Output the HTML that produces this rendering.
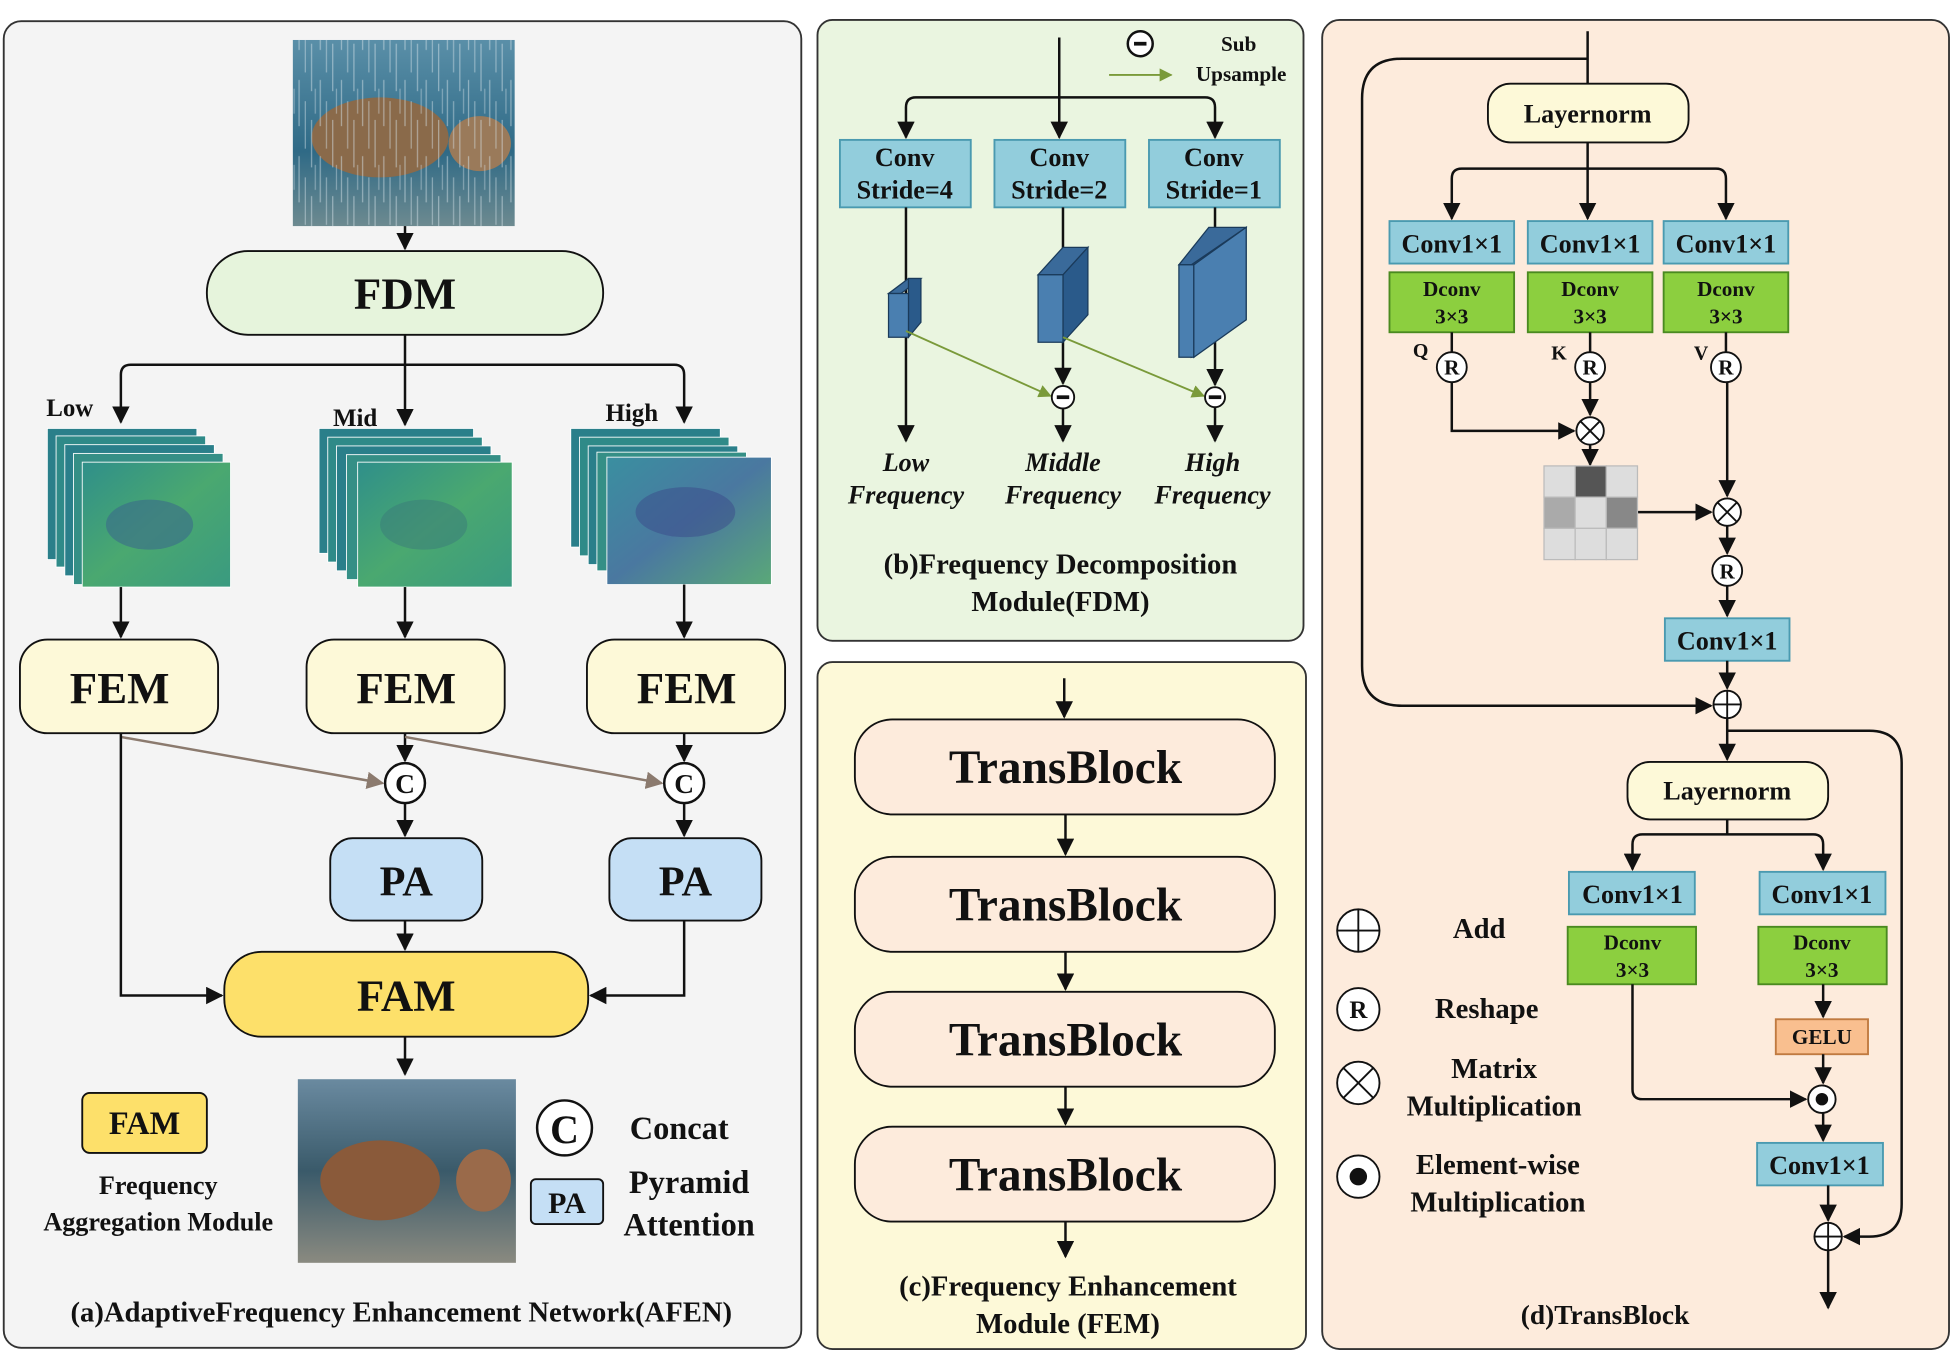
<!DOCTYPE html>
<html><head><meta charset="utf-8"><style>
html,body{margin:0;padding:0;background:#fff}
svg{display:block}
text{font-family:"Liberation Serif",serif;font-weight:bold;fill:#111;text-anchor:middle}
</style></head><body>
<svg width="1954" height="1354" viewBox="0 0 1568 1084" preserveAspectRatio="none" xmlns="http://www.w3.org/2000/svg">
<defs>
<marker id="a" viewBox="0 0 10 10" refX="9" refY="5" markerWidth="7" markerHeight="7" orient="auto-start-reverse"><path d="M0,0L10,5L0,10z" fill="#111"/></marker>
<marker id="g" viewBox="0 0 10 10" refX="9" refY="5" markerWidth="7" markerHeight="7" orient="auto"><path d="M0,0L10,5L0,10z" fill="#7a9a3a"/></marker>
<marker id="b" viewBox="0 0 10 10" refX="9" refY="5" markerWidth="7" markerHeight="7" orient="auto"><path d="M0,0L10,5L0,10z" fill="#8b7a6e"/></marker>
<linearGradient id="rain" x1="0" y1="0" x2="0" y2="1"><stop offset="0" stop-color="#5a8fa8"/><stop offset=".6" stop-color="#2f6a86"/><stop offset="1" stop-color="#6d8a90"/></linearGradient>
<linearGradient id="fm" x1="0" y1="0" x2="1" y2="1"><stop offset="0" stop-color="#2f8f8a"/><stop offset=".5" stop-color="#4aa870"/><stop offset="1" stop-color="#3a9a80"/></linearGradient>
<linearGradient id="fm2" x1="0" y1="0" x2="1" y2="1"><stop offset="0" stop-color="#3a8fa0"/><stop offset=".5" stop-color="#4a78a0"/><stop offset="1" stop-color="#5aa878"/></linearGradient>
<linearGradient id="clean" x1="0" y1="0" x2="0" y2="1"><stop offset="0" stop-color="#6a8aa0"/><stop offset=".5" stop-color="#3a5a6a"/><stop offset="1" stop-color="#8a8a80"/></linearGradient>
<pattern id="rn" width="17" height="61" patternUnits="userSpaceOnUse">
<line x1="2" y1="3" x2="2" y2="40" stroke="#d8e4ea" stroke-width="1" opacity=".5"/>
<line x1="7" y1="20" x2="7" y2="58" stroke="#d8e4ea" stroke-width="1" opacity=".45"/>
<line x1="12" y1="35" x2="12" y2="61" stroke="#d8e4ea" stroke-width="1" opacity=".5"/>
<line x1="12" y1="0" x2="12" y2="12" stroke="#d8e4ea" stroke-width="1" opacity=".5"/>
<line x1="15" y1="10" x2="15" y2="30" stroke="#d8e4ea" stroke-width="1" opacity=".4"/>
</pattern>
</defs>

<rect x="3" y="17" width="640" height="1062" rx="14" fill="#f4f4f4" stroke="#333" stroke-width="1.5"/>
<rect x="656" y="16" width="390" height="497" rx="12" fill="#eaf5e0" stroke="#333" stroke-width="1.5"/>
<rect x="656" y="530" width="392" height="550" rx="12" fill="#fdf9d8" stroke="#333" stroke-width="1.5"/>
<rect x="1061" y="16" width="503" height="1064" rx="14" fill="#fdebdc" stroke="#333" stroke-width="1.5"/>

<g stroke="#111" stroke-width="2" fill="none">
<rect x="235" y="32" width="178" height="149" fill="url(#rain)" stroke="none"/>
<ellipse cx="305" cy="110" rx="55" ry="32" fill="#8a6a4a" stroke="none"/>
<ellipse cx="385" cy="115" rx="25" ry="22" fill="#9a7a5a" stroke="none"/>
<rect x="235" y="32" width="178" height="149" fill="url(#rn)" stroke="none"/>
<line x1="325" y1="181" x2="325" y2="199" marker-end="url(#a)"/>
<rect x="166" y="201" width="318" height="67" rx="33" fill="#e6f4dc" stroke-width="1.5"/>
<line x1="325" y1="268" x2="325" y2="340" marker-end="url(#a)"/>
<path d="M97,338V300q0,-8 8,-8H541q8,0 8,8V338" marker-start="url(#a)" marker-end="url(#a)"/>
</g>
<text x="56" y="333" font-size="20">Low</text>
<text x="285" y="341" font-size="20">Mid</text>
<text x="507" y="337" font-size="20">High</text>
<text x="325" y="247" font-size="36">FDM</text>

<g stroke="#fff" stroke-width="0.7">
<rect x="38" y="343" width="120" height="105" fill="#2a7f8a"/><rect x="45" y="349" width="120" height="105" fill="#2f8a88"/><rect x="52" y="356" width="120" height="105" fill="#2a7f8a"/><rect x="59" y="363" width="120" height="105" fill="#358f86"/>
<rect x="66" y="370" width="119" height="100" fill="url(#fm)"/>
<rect x="256" y="343" width="124" height="100" fill="#2a7f8a"/><rect x="263" y="350" width="124" height="100" fill="#2f8a88"/><rect x="270" y="357" width="124" height="100" fill="#2a7f8a"/><rect x="278" y="364" width="124" height="100" fill="#358f86"/>
<rect x="287" y="370" width="124" height="100" fill="url(#fm)"/>
<rect x="458" y="343" width="120" height="95" fill="#2a7f8a"/><rect x="465" y="350" width="120" height="95" fill="#2f8a88"/><rect x="472" y="357" width="120" height="95" fill="#2a7f8a"/><rect x="479" y="362" width="120" height="95" fill="#358f86"/>
<rect x="487" y="366" width="132" height="102" fill="url(#fm2)"/>
</g>
<ellipse cx="120" cy="420" rx="35" ry="20" fill="#3a6a8a" opacity=".6"/>
<ellipse cx="340" cy="420" rx="35" ry="20" fill="#3a7a7a" opacity=".5"/>
<ellipse cx="550" cy="410" rx="40" ry="20" fill="#3a4a8a" opacity=".5"/>

<g stroke="#111" stroke-width="2" fill="none">
<line x1="97" y1="470" x2="97" y2="510" marker-end="url(#a)"/>
<line x1="325" y1="470" x2="325" y2="510" marker-end="url(#a)"/>
<line x1="549" y1="468" x2="549" y2="510" marker-end="url(#a)"/>
<rect x="16" y="512" width="159" height="75" rx="22" fill="#fdf9d8" stroke-width="1.5"/>
<rect x="246" y="512" width="159" height="75" rx="22" fill="#fdf9d8" stroke-width="1.5"/>
<rect x="471" y="512" width="159" height="75" rx="22" fill="#fdf9d8" stroke-width="1.5"/>
<line x1="325" y1="587" x2="325" y2="609" marker-end="url(#a)"/>
<line x1="549" y1="587" x2="549" y2="609" marker-end="url(#a)"/>
<line x1="97" y1="590" x2="307" y2="627" stroke="#8b7a6e" marker-end="url(#b)"/>
<line x1="325" y1="590" x2="531" y2="627" stroke="#8b7a6e" marker-end="url(#b)"/>
<circle cx="325" cy="627" r="16" fill="#fff"/>
<circle cx="549" cy="627" r="16" fill="#fff"/>
<line x1="325" y1="643" x2="325" y2="669" marker-end="url(#a)"/>
<line x1="549" y1="643" x2="549" y2="669" marker-end="url(#a)"/>
<rect x="265" y="671" width="122" height="66" rx="18" fill="#c5dff5" stroke-width="1.5"/>
<rect x="489" y="671" width="122" height="66" rx="18" fill="#c5dff5" stroke-width="1.5"/>
<line x1="325" y1="737" x2="325" y2="760" marker-end="url(#a)"/>
<path d="M549,737V797H474" marker-end="url(#a)"/>
<path d="M97,587V797H178" marker-end="url(#a)"/>
<rect x="180" y="762" width="292" height="68" rx="30" fill="#fde06a" stroke-width="1.5"/>
<line x1="325" y1="830" x2="325" y2="860" marker-end="url(#a)"/>
<rect x="239" y="864" width="175" height="147" fill="url(#clean)" stroke="none"/>
<ellipse cx="305" cy="945" rx="48" ry="32" fill="#8a5a3a" stroke="none"/>
<ellipse cx="388" cy="945" rx="22" ry="25" fill="#9a6a4a" stroke="none"/>
<rect x="66" y="875" width="100" height="48" rx="6" fill="#fde06a" stroke-width="1.5"/>
<circle cx="453" cy="903" r="22" fill="#fff"/>
<rect x="426" y="944" width="58" height="36" rx="4" fill="#c5dff5" stroke-width="1.5"/>
</g>
<text x="96" y="563" font-size="36">FEM</text>
<text x="326" y="563" font-size="36">FEM</text>
<text x="551" y="563" font-size="36">FEM</text>
<text x="325" y="635" font-size="22" font-weight="normal">C</text>
<text x="549" y="635" font-size="22" font-weight="normal">C</text>
<text x="326" y="717" font-size="34">PA</text>
<text x="550" y="717" font-size="34">PA</text>
<text x="326" y="809" font-size="36">FAM</text>
<text x="116" y="908" font-size="26" font-weight="normal">FAM</text>
<text x="127" y="956" font-size="21">Frequency</text>
<text x="127" y="985" font-size="21">Aggregation Module</text>
<text x="453" y="915" font-size="32" font-weight="normal">C</text>
<text x="545" y="912" font-size="26">Concat</text>
<text x="455" y="971" font-size="24" font-weight="normal">PA</text>
<text x="553" y="955" font-size="26">Pyramid</text>
<text x="553" y="989" font-size="26">Attention</text>
<text x="322" y="1058" font-size="23">(a)AdaptiveFrequency Enhancement Network(AFEN)</text>

<g stroke="#111" stroke-width="2" fill="none">
<circle cx="915" cy="35" r="10" fill="#fff"/><line x1="910" y1="35" x2="920" y2="35" stroke-width="3"/>
<line x1="890" y1="60" x2="940" y2="60" stroke="#7a9a3a" stroke-width="1.5" marker-end="url(#g)"/>
<line x1="850" y1="30" x2="850" y2="110" marker-end="url(#a)"/>
<path d="M727,110V86q0,-8 8,-8H967q8,0 8,8V110" marker-start="url(#a)" marker-end="url(#a)"/>
<rect x="674" y="112" width="105" height="54" fill="#92cddc" stroke="#4a9ab0" stroke-width="1.5"/>
<rect x="798" y="112" width="105" height="54" fill="#92cddc" stroke="#4a9ab0" stroke-width="1.5"/>
<rect x="922" y="112" width="105" height="54" fill="#92cddc" stroke="#4a9ab0" stroke-width="1.5"/>
<line x1="727" y1="166" x2="727" y2="353" marker-end="url(#a)"/>
<line x1="853" y1="166" x2="853" y2="307" marker-end="url(#a)"/>
<line x1="975" y1="166" x2="975" y2="308" marker-end="url(#a)"/>
<line x1="853" y1="327" x2="853" y2="353" marker-end="url(#a)"/>
<line x1="975" y1="326" x2="975" y2="353" marker-end="url(#a)"/>
</g>
<g stroke="#1a3a5a" stroke-width="1">
<polygon points="713,235 729,223 739,223 723,235" fill="#3a6a9a"/><polygon points="729,223 739,223 739,258 729,270" fill="#2a5a8a"/><rect x="713" y="235" width="16" height="35" fill="#4a7fb0"/>
<polygon points="833,220 853,198 873,198 853,220" fill="#3a6a9a"/><polygon points="853,220 873,198 873,252 853,274" fill="#2a5a8a"/><rect x="833" y="220" width="20" height="54" fill="#4a7fb0"/>
<polygon points="946,212 970,182 1000,182 976,212" fill="#3a6a9a"/><polygon points="956,212 1000,182 1000,256 956,286" fill="#3a6a9a"/><rect x="946" y="212" width="12" height="74" fill="#4a7fb0"/><polygon points="958,212 1000,182 1000,256 958,286" fill="#4a7fb0"/>
</g>
<g stroke="#111" stroke-width="1.5" fill="#fff">
<line x1="727" y1="265" x2="843" y2="317" stroke="#7a9a3a" marker-end="url(#g)"/>
<line x1="853" y1="270" x2="966" y2="317" stroke="#7a9a3a" marker-end="url(#g)"/>
<circle cx="853" cy="318" r="9"/><line x1="848" y1="318" x2="858" y2="318" stroke-width="3"/>
<circle cx="975" cy="318" r="8"/><line x1="970" y1="318" x2="980" y2="318" stroke-width="3"/>
</g>
<text x="994" y="41" font-size="17">Sub</text>
<text x="996" y="65" font-size="17">Upsample</text>
<text x="726" y="133" font-size="21">Conv</text><text x="726" y="159" font-size="21">Stride=4</text>
<text x="850" y="133" font-size="21">Conv</text><text x="850" y="159" font-size="21">Stride=2</text>
<text x="974" y="133" font-size="21">Conv</text><text x="974" y="159" font-size="21">Stride=1</text>
<g font-style="italic" font-size="21">
<text x="727" y="377">Low</text><text x="727" y="403">Frequency</text>
<text x="853" y="377">Middle</text><text x="853" y="403">Frequency</text>
<text x="973" y="377">High</text><text x="973" y="403">Frequency</text>
</g>
<text x="851" y="459" font-size="23">(b)Frequency Decomposition</text>
<text x="851" y="489" font-size="23">Module(FDM)</text>

<g stroke="#111" stroke-width="2" fill="#fdebdc">
<line x1="854" y1="543" x2="854" y2="574" marker-end="url(#a)"/>
<rect x="686" y="576" width="337" height="76" rx="30" stroke-width="1.5"/>
<line x1="855" y1="652" x2="855" y2="684" marker-end="url(#a)"/>
<rect x="686" y="686" width="337" height="76" rx="30" stroke-width="1.5"/>
<line x1="855" y1="762" x2="855" y2="792" marker-end="url(#a)"/>
<rect x="686" y="794" width="337" height="76" rx="30" stroke-width="1.5"/>
<line x1="855" y1="870" x2="855" y2="900" marker-end="url(#a)"/>
<rect x="686" y="902" width="337" height="76" rx="30" stroke-width="1.5"/>
<line x1="855" y1="978" x2="855" y2="1006" marker-end="url(#a)"/>
</g>
<text x="855" y="627" font-size="38">TransBlock</text>
<text x="855" y="737" font-size="38">TransBlock</text>
<text x="855" y="845" font-size="38">TransBlock</text>
<text x="855" y="953" font-size="38">TransBlock</text>
<text x="857" y="1037" font-size="23">(c)Frequency Enhancement</text>
<text x="857" y="1067" font-size="23">Module (FEM)</text>

<g stroke="#111" stroke-width="2" fill="none">
<line x1="1274" y1="25" x2="1274" y2="67"/>
<path d="M1274,47H1125q-32,0 -32,32V533q0,32 32,32H1373" marker-end="url(#a)"/>
<rect x="1194" y="67" width="161" height="47" rx="18" fill="#fdf9d8" stroke-width="1.5"/>
<line x1="1274" y1="114" x2="1274" y2="175" marker-end="url(#a)"/>
<path d="M1165,175V143q0,-8 8,-8H1377q8,0 8,8V175" marker-start="url(#a)" marker-end="url(#a)"/>
<g fill="#92cddc" stroke="#4a9ab0" stroke-width="1.5">
<rect x="1115" y="177" width="100" height="34"/><rect x="1226" y="177" width="100" height="34"/><rect x="1335" y="177" width="100" height="34"/>
<rect x="1336" y="495" width="100" height="34"/>
<rect x="1259" y="698" width="101" height="34"/><rect x="1412" y="698" width="101" height="34"/>
<rect x="1410" y="915" width="101" height="34"/>
</g>
<g fill="#8ccf3f" stroke="#4a8a20" stroke-width="1.5">
<rect x="1115" y="218" width="100" height="48"/><rect x="1226" y="218" width="100" height="48"/><rect x="1335" y="218" width="100" height="48"/>
<rect x="1258" y="742" width="103" height="46"/><rect x="1411" y="742" width="103" height="46"/>
</g>
<rect x="1425" y="816" width="74" height="28" fill="#f9bf8f" stroke="#c07a40" stroke-width="1.5"/>
<line x1="1165" y1="266" x2="1165" y2="282"/><line x1="1276" y1="266" x2="1276" y2="282"/><line x1="1385" y1="266" x2="1385" y2="282"/>
<path d="M1165,306V345H1263" marker-end="url(#a)"/>
<line x1="1276" y1="306" x2="1276" y2="332" marker-end="url(#a)"/>
<line x1="1276" y1="356" x2="1276" y2="372" marker-end="url(#a)"/>
<line x1="1314" y1="410" x2="1373" y2="410" marker-end="url(#a)"/>
<line x1="1386" y1="306" x2="1386" y2="397" marker-end="url(#a)"/>
<line x1="1386" y1="421" x2="1386" y2="443" marker-end="url(#a)"/>
<line x1="1386" y1="469" x2="1386" y2="493" marker-end="url(#a)"/>
<line x1="1386" y1="529" x2="1386" y2="551" marker-end="url(#a)"/>
<line x1="1386" y1="575" x2="1386" y2="608" marker-end="url(#a)"/>
<path d="M1386,585H1500q26,0 26,26V964q0,26 -26,26H1480" marker-end="url(#a)"/>
<rect x="1306" y="610" width="161" height="46" rx="18" fill="#fdf9d8" stroke-width="1.5"/>
<line x1="1386" y1="656" x2="1386" y2="668"/>
<path d="M1310,696V676q0,-8 8,-8H1455q8,0 8,8V696" marker-start="url(#a)" marker-end="url(#a)"/>
<path d="M1310,788V872q0,8 8,8H1449" marker-end="url(#a)"/>
<line x1="1463" y1="788" x2="1463" y2="814" marker-end="url(#a)"/>
<line x1="1463" y1="844" x2="1463" y2="867" marker-end="url(#a)"/>
<line x1="1463" y1="891" x2="1463" y2="913" marker-end="url(#a)"/>
<line x1="1467" y1="949" x2="1467" y2="977" marker-end="url(#a)"/>
<line x1="1467" y1="1001" x2="1467" y2="1047" marker-end="url(#a)"/>
<g fill="#fff" stroke-width="1.5">
<circle cx="1165" cy="294" r="12"/><circle cx="1276" cy="294" r="12"/><circle cx="1385" cy="294" r="12"/><circle cx="1386" cy="457" r="12"/>
<circle cx="1276" cy="345" r="11"/><path d="M1268,337l16,16M1284,337l-16,16"/>
<circle cx="1386" cy="410" r="11"/><path d="M1378,402l16,16M1394,402l-16,16"/>
<circle cx="1386" cy="564" r="11"/><path d="M1375,564h22M1386,553v22"/>
<circle cx="1462" cy="880" r="11"/>
<circle cx="1467" cy="990" r="11"/><path d="M1456,990h22M1467,979v22"/>
<circle cx="1090" cy="745" r="17"/><path d="M1073,745h34M1090,728v34"/>
<circle cx="1090" cy="808" r="17"/>
<circle cx="1090" cy="867" r="17"/><path d="M1078,855l24,24M1102,855l-24,24"/>
<circle cx="1090" cy="942" r="17"/>
</g>
</g>
<circle cx="1462" cy="880" r="5" fill="#111"/>
<circle cx="1090" cy="942" r="7" fill="#111"/>
<g stroke="#bbb" stroke-width="1">
<rect x="1239" y="373" width="25" height="25" fill="#ddd"/><rect x="1264" y="373" width="25" height="25" fill="#555"/><rect x="1289" y="373" width="25" height="25" fill="#ddd"/>
<rect x="1239" y="398" width="25" height="25" fill="#aaa"/><rect x="1264" y="398" width="25" height="25" fill="#ddd"/><rect x="1289" y="398" width="25" height="25" fill="#888"/>
<rect x="1239" y="423" width="25" height="25" fill="#ddd"/><rect x="1264" y="423" width="25" height="25" fill="#ddd"/><rect x="1289" y="423" width="25" height="25" fill="#ddd"/>
</g>
<text x="1274" y="98" font-size="21">Layernorm</text>
<text x="1386" y="640" font-size="21">Layernorm</text>
<g font-size="21">
<text x="1165" y="202">Conv1×1</text><text x="1276" y="202">Conv1×1</text><text x="1385" y="202">Conv1×1</text>
<text x="1386" y="520">Conv1×1</text>
<text x="1310" y="723">Conv1×1</text><text x="1462" y="723">Conv1×1</text>
<text x="1460" y="940">Conv1×1</text>
</g>
<g font-size="17">
<text x="1165" y="237">Dconv</text><text x="1165" y="259">3×3</text>
<text x="1276" y="237">Dconv</text><text x="1276" y="259">3×3</text>
<text x="1385" y="237">Dconv</text><text x="1385" y="259">3×3</text>
<text x="1310" y="760">Dconv</text><text x="1310" y="782">3×3</text>
<text x="1462" y="760">Dconv</text><text x="1462" y="782">3×3</text>
<text x="1462" y="836">GELU</text>
</g>
<g font-size="17" font-weight="normal">
<text x="1165" y="300">R</text><text x="1276" y="300">R</text><text x="1385" y="300">R</text><text x="1386" y="463">R</text>
</g>
<text x="1140" y="286" font-size="16">Q</text><text x="1251" y="288" font-size="16">K</text><text x="1365" y="288" font-size="16">V</text>
<text x="1090" y="815" font-size="20" font-weight="normal">R</text>
<text x="1187" y="751" font-size="23">Add</text>
<text x="1193" y="815" font-size="23">Reshape</text>
<text x="1199" y="863" font-size="23">Matrix</text><text x="1199" y="893" font-size="23">Multiplication</text>
<text x="1202" y="940" font-size="23">Element-wise</text><text x="1202" y="970" font-size="23">Multiplication</text>
<text x="1288" y="1060" font-size="22">(d)TransBlock</text>
</svg>
</body></html>
